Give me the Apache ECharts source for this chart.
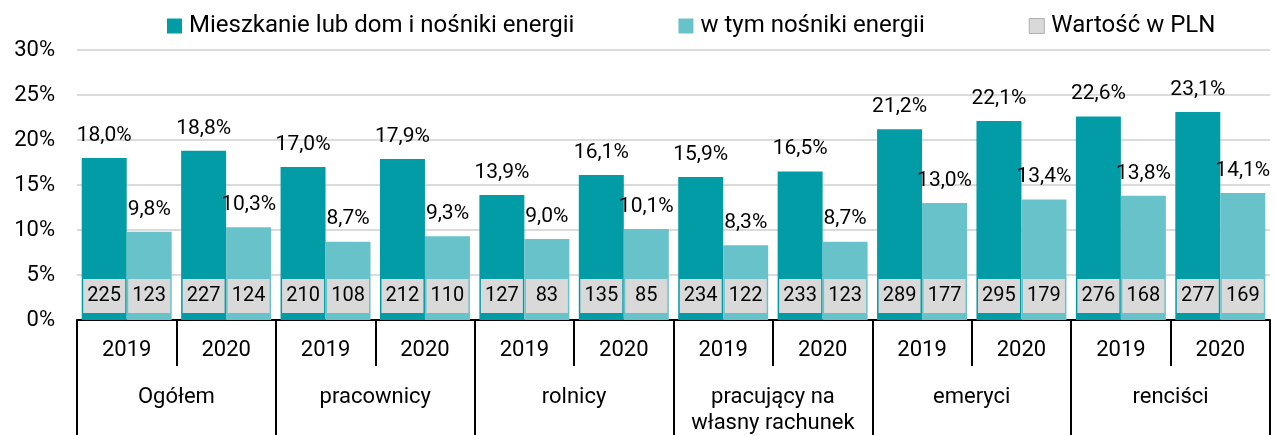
<!DOCTYPE html>
<html>
<head>
<meta charset="utf-8">
<script src="https://cdn.jsdelivr.net/npm/echarts@6/dist/echarts.min.js"></script>
<style>
  html, body { margin: 0; padding: 0; background: #fff; }
  #chart { width: 1276px; height: 435px; }
</style>
</head>
<body>
<div id="chart"></div>
<script>
// dane
var groups = ["Ogółem", "pracownicy", "rolnicy", "pracujący na\nwłasny rachunek", "emeryci", "renciści"];
var years = ["2019", "2020", "2019", "2020", "2019", "2020", "2019", "2020", "2019", "2020", "2019", "2020"];
var housing = [18.0, 18.8, 17.0, 17.9, 13.9, 16.1, 15.9, 16.5, 21.2, 22.1, 22.6, 23.1];
var energy = [9.8, 10.3, 8.7, 9.3, 9.0, 10.1, 8.3, 8.7, 13.0, 13.4, 13.8, 14.1];
var plnHousing = [225, 227, 210, 212, 127, 135, 234, 233, 289, 295, 276, 277];
var plnEnergy = [123, 124, 108, 110, 83, 85, 122, 123, 177, 179, 168, 169];
var yTicks = { min: 0, max: 30, interval: 5 };

var fontMain = "Roboto";

var chart = echarts.init(document.getElementById("chart"));
var colors = ["#029ca7", "#67c3c9"];

function pct(v) {
  return v.toFixed(1).replace(".", ",") + "%";
}

var topLabel = {
  show: true,
  position: "top",
  distance: 12,
  color: "#000",
  fontFamily: fontMain,
  fontSize: 21,
  formatter: function (p) { return pct(p.value); }
};

// szare pola z wartością w PLN
var boxLabel = {
  show: true,
  position: "insideBottom",
  distance: 7,
  color: "#000",
  fontFamily: fontMain,
  fontSize: 20,
  backgroundColor: "#d9d9d9",
  width: 42,
  height: 34,
  lineHeight: 34,
  align: "center",
  verticalAlign: "bottom",
  formatter: "{c}"
};

var option = {
  animation: false,
  color: colors,
  legend: {
    top: 14,
    left: 167,
    padding: 0,
    itemWidth: 15,
    itemHeight: 15,
    itemGap: 104,
    icon: "rect",
    textStyle: { color: "#000", fontSize: 24, fontFamily: fontMain, padding: [0, 0, 0, 2] },
    data: [
      { name: "Mieszkanie lub dom i nośniki energii" },
      { name: "w tym nośniki energii" },
      { name: "Wartość w PLN", itemStyle: { color: "#d9d9d9", borderColor: "#b0b0b0", borderWidth: 1 } }
    ]
  },
  grid: { left: 77, right: 6, top: 50, bottom: 115, outerBoundsMode: "none" },
  xAxis: [
    {
      type: "category",
      position: "bottom",
      data: years,
      axisLine: { show: true, lineStyle: { color: "#000", width: 2 } },
      axisTick: { show: true, length: 46, lineStyle: { color: "#000", width: 2 } },
      axisLabel: { color: "#000", fontSize: 22, fontFamily: fontMain, margin: 19, interval: 0 }
    },
    {
      type: "category",
      position: "bottom",
      data: years,
      show: false
    },
    {
      type: "category",
      position: "bottom",
      data: groups,
      axisLine: { show: false },
      axisTick: { show: true, length: 125, lineStyle: { color: "#000", width: 2 } },
      axisLabel: { color: "#000", fontSize: 22, fontFamily: fontMain, margin: 64, lineHeight: 26, interval: 0 }
    }
  ],
  yAxis: [
    {
      type: "value",
      min: yTicks.min,
      max: yTicks.max,
      interval: yTicks.interval,
      axisLine: { show: false },
      axisTick: { show: false },
      splitLine: { show: true, lineStyle: { color: "#cfcfcf", width: 1.5 } },
      axisLabel: {
        color: "#000",
        fontSize: 22,
        fontFamily: fontMain,
        margin: 22,
        formatter: "{value}%"
      }
    },
    {
      type: "value",
      min: 0,
      max: 100000,
      show: false
    }
  ],
  series: [
    {
      name: "Mieszkanie lub dom i nośniki energii",
      type: "bar",
      xAxisIndex: 0,
      yAxisIndex: 0,
      barGap: "0%",
      barCategoryGap: "9.5%",
      data: housing,
      label: topLabel
    },
    {
      name: "w tym nośniki energii",
      type: "bar",
      xAxisIndex: 0,
      yAxisIndex: 0,
      barGap: "0%",
      barCategoryGap: "9.5%",
      data: energy,
      label: topLabel
    },
    {
      name: "Wartość w PLN",
      type: "bar",
      xAxisIndex: 1,
      yAxisIndex: 1,
      barGap: "0%",
      barCategoryGap: "9.5%",
      itemStyle: { color: "rgba(0,0,0,0)" },
      data: plnHousing,
      label: boxLabel
    },
    {
      name: "Wartość w PLN",
      type: "bar",
      xAxisIndex: 1,
      yAxisIndex: 1,
      barGap: "0%",
      barCategoryGap: "9.5%",
      itemStyle: { color: "rgba(0,0,0,0)" },
      data: plnEnergy,
      label: boxLabel
    }
  ]
};
chart.setOption(option);
</script>
</body>
</html>
